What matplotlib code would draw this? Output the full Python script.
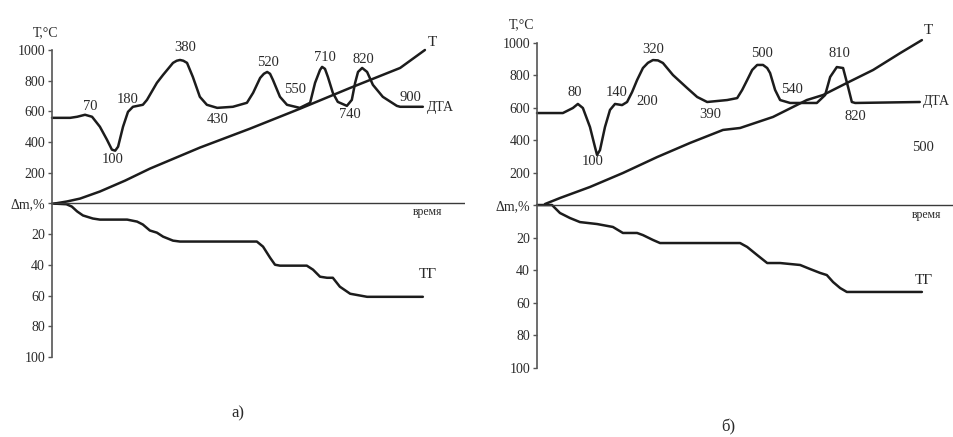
import matplotlib.pyplot as plt

plt.rcParams['font.family'] = ['Liberation Serif', 'DejaVu Serif']

"""
Two thermograms (а, б): heating curve T, DTA curve and TG (mass loss) curve.
Upper half of the axis is temperature in °C, lower half is mass loss in %.
Time axis is arbitrary (0..100).
"""

# ---------------- panel а ----------------
a_T_time = [0.7, 3.6, 6.8, 11.6, 17.7, 23.7, 35.8, 47.9, 60.0, 72.2, 84.3, 90.3]
a_T_temp = [0, 13, 32, 78, 149, 227, 364, 487, 617, 753, 883, 1000]

a_dta_time = [0, 4.4, 6.1, 8.0, 9.7, 11.6, 13.3, 14.5, 15.3, 16.0, 17.2, 18.4,
              19.6, 22.0, 23.0, 25.4, 26.9, 29.3, 30.2, 31.0, 31.8, 32.7, 34.1,
              35.8, 37.5, 40.0, 43.8, 47.2, 48.7, 50.4, 51.3, 52.1, 52.8, 53.5,
              55.2, 56.9, 60.0, 62.5, 63.7, 64.9, 65.4, 66.1, 66.8, 68.0, 69.2,
              71.4, 72.6, 73.4, 74.1, 75.1, 76.3, 77.7, 80.1, 83.5, 84.3, 89.8]
a_dta_val = [558, 558, 565, 578, 565, 500, 416, 351, 344, 370, 500, 597,
             630, 643, 675, 786, 838, 916, 930, 935, 930, 916, 825,
             695, 643, 623, 630, 656, 721, 818, 845, 857, 845, 805,
             695, 643, 623, 656, 786, 870, 890, 877, 825, 721, 662,
             636, 675, 786, 857, 883, 857, 773, 695, 636, 630, 630]

a_tg_time = [0, 3.5, 4.8, 6.1, 7.5, 9.9, 11.6, 18.2, 20.6, 22.0, 23.7, 25.4,
             26.9, 29.3, 31.0, 49.6, 51.1, 52.8, 54.0, 55.2, 61.7, 63.2, 64.9,
             66.6, 68.0, 69.7, 72.2, 76.3, 89.8]
a_tg_loss = [0, 0.5, 2.0, 5.2, 7.8, 9.8, 10.5, 10.5, 11.8, 13.7, 17.6, 19.0,
             21.6, 24.2, 24.8, 24.8, 28.1, 35.3, 39.9, 40.5, 40.5, 43.1, 47.7,
             48.4, 48.4, 54.2, 58.8, 60.8, 60.8]

a_labels = ["70", "100", "180", "380", "430", "520", "550", "710", "740", "820", "900"]
a_label_time = [9.2, 14.8, 18.4, 32.2, 40.2, 52.3, 58.8, 66.1, 72.2, 75.3, 86.7]
a_label_temp = [630, 286, 675, 1013, 545, 916, 740, 954, 578, 935, 688]

# ---------------- panel б ----------------
b_T_time = [1.9, 5.5, 12.7, 20.6, 28.8, 36.7, 44.6, 48.7, 56.6, 64.7, 68.6,
            74.3, 80.6, 87.1, 92.3]
b_T_temp = [6, 43, 111, 197, 295, 382, 462, 474, 542, 646, 677,
            751, 831, 935, 1015]

b_dta_time = [0, 6.2, 8.6, 9.8, 11.0, 12.7, 13.9, 14.4, 15.1, 16.3, 17.5, 18.7,
              20.4, 21.6, 22.8, 24.0, 25.4, 26.6, 27.8, 29.0, 30.2, 32.6, 36.0,
              38.4, 40.8, 45.6, 48.0, 49.2, 50.4, 51.6, 52.8, 54.2, 55.2, 55.9,
              57.1, 58.3, 60.7, 67.1, 69.1, 70.3, 71.9, 73.4, 74.6, 75.5, 76.3,
              91.8]
b_dta_val = [566, 566, 597, 622, 597, 480, 357, 308, 338, 480, 585, 622,
             615, 634, 695, 769, 843, 875, 892, 890, 874, 800, 720,
             665, 634, 646, 658, 708, 769, 831, 862, 862, 843, 812,
             708, 646, 628, 628, 677, 788, 849, 843, 726, 634, 628,
             634]

b_tg_time = [0, 3.6, 5.5, 7.9, 10.3, 14.4, 18.2, 20.6, 24.0, 25.4, 27.8, 29.5,
             48.7, 50.4, 52.8, 55.2, 58.3, 63.1, 65.5, 67.9, 69.5, 71.0, 72.7,
             74.3, 92.3]
b_tg_loss = [0, 0, 4.9, 8.0, 10.5, 11.7, 13.5, 17.2, 17.2, 18.5, 21.5, 23.4,
             23.4, 25.8, 30.8, 35.7, 35.7, 36.9, 39.4, 41.8, 43.1, 47.4, 51.1,
             53.5, 53.5]

b_labels = ["80", "100", "140", "200", "320", "390", "500", "540", "810", "820", "500"]
b_label_time = [9.1, 13.4, 19.2, 26.4, 27.8, 41.5, 53.9, 61.2, 72.6, 76.3, 92.5]
b_label_temp = [695, 265, 695, 634, 960, 554, 935, 708, 935, 542, 357]

# shared axis scale
temp_ticks = [1000, 800, 600, 400, 200]
loss_ticks = [20, 40, 60, 80, 100]
tick_labels = ["1000", "800", "600", "400", "200", "Δm,%", "20", "40", "60", "80", "100"]

LINE = '#1c1c1c'
TXT = '#2a2a2a'


def draw_panel(ax, T_time, T_temp, dta_time, dta_val, tg_time, tg_loss,
               labels, label_time, label_temp, tag_pos):
    # temperature on top (°C / 10), mass loss below (negative %)
    style = dict(color=LINE, lw=1.8, clip_on=False, solid_joinstyle='round',
                 solid_capstyle='round')
    ax.plot(T_time, [v / 10 for v in T_temp], **style)
    ax.plot(dta_time, [v / 10 for v in dta_val], **style)
    ax.plot(tg_time, [-v for v in tg_loss], **style)
    ax.axhline(0, color='#3a3a3a', lw=1.0)

    for s, x, y in zip(labels, label_time, label_temp):
        ax.text(x, y / 10, s, ha='center', va='center', fontsize=10.5, color=TXT)

    ax.set_xlim(0, 100)
    ax.set_ylim(-100, 100)
    ax.set_yticks([v / 10 for v in temp_ticks] + [0] + [-v for v in loss_ticks])
    ax.set_yticklabels(tick_labels)
    ax.set_xticks([])
    for side in ['top', 'right', 'bottom']:
        ax.spines[side].set_visible(False)
    ax.spines['left'].set_color('#555555')
    ax.spines['left'].set_linewidth(1.2)
    ax.tick_params(axis='y', direction='out', length=3, width=1, pad=2,
                   labelsize=10, colors='#555555', labelcolor=TXT)

    ax.text(*tag_pos['unit'], "T,°C", ha='center', va='center', fontsize=10, color=TXT)
    ax.text(*tag_pos['T'], "T", ha='center', va='center', fontsize=11, color=TXT)
    ax.text(*tag_pos['dta'], "ДТА", ha='left', va='center', fontsize=10, color=TXT)
    ax.text(*tag_pos['time'], "время", ha='center', va='center', fontsize=8.5, color=TXT)
    ax.text(*tag_pos['tg'], "ТГ", ha='center', va='center', fontsize=11, color=TXT)
    ax.patch.set_alpha(0)


fig = plt.figure(figsize=(9.54, 4.37), dpi=100)

ax_a = fig.add_axes([0.0545, 0.1831, 0.4329, 0.7025])
draw_panel(ax_a, a_T_time, a_T_temp, a_dta_time, a_dta_val, a_tg_time, a_tg_loss,
           a_labels, a_label_time, a_label_temp,
           {'unit': (-1.5, 111.5), 'T': (92.0, 104.6), 'dta': (90.8, 62.3),
            'time': (91.0, -5.8), 'tg': (91.0, -46.1)})

ax_b = fig.add_axes([0.5629, 0.1590, 0.4371, 0.7437])
draw_panel(ax_b, b_T_time, b_T_temp, b_dta_time, b_dta_val, b_tg_time, b_tg_loss,
           b_labels, b_label_time, b_label_temp,
           {'unit': (-3.6, 110.8), 'T': (93.8, 107.7), 'dta': (92.6, 63.4),
            'time': (93.3, -6.2), 'tg': (92.8, -46.2)})

fig.text(238 / 954, 1 - 413 / 437, "а)", ha='center', va='center', fontsize=12, color=TXT)
fig.text(728 / 954, 1 - 427 / 437, "б)", ha='center', va='center', fontsize=12, color=TXT)

plt.savefig("out.png", dpi=100)
